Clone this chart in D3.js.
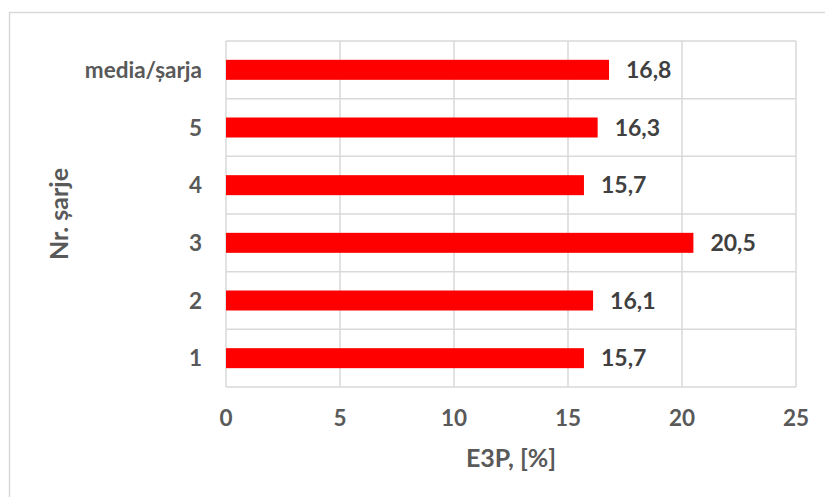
<!DOCTYPE html>
<html><head><meta charset="utf-8">
<script src="https://cdn.jsdelivr.net/npm/d3@7"></script>
<style>body{margin:0;background:#fff}svg{display:block}text{font-family:Lato,"Open Sans",sans-serif;font-weight:bold}</style>
</head><body><svg id="c" width="825" height="497"></svg>
<script>
const categories = ["1","2","3","4","5","media/șarja"];
const values = [15.7,16.1,20.5,15.7,16.3,16.8];
const labels = ["15,7","16,1","20,5","15,7","16,3","16,8"];
const xTicks = [0,5,10,15,20,25];
const xTitle = "E3P, [%]";
const yTitle = "Nr. șarje";

const svg = d3.select("#c");
const m = {l:226, r:796, t:41, b:387};
// chart border
svg.append("path").attr("d","M9.5,497 V12.5 H825").attr("fill","none").attr("stroke","#d9d9d9").attr("stroke-width",1.5);

const x = d3.scaleLinear().domain([0,25]).range([m.l,m.r]);
const y = d3.scaleBand().domain(categories.slice().reverse()).range([m.t,m.b]).paddingInner(0).paddingOuter(0);

// vertical gridlines
svg.append("g").selectAll("line").data(xTicks).join("line")
  .attr("x1",d=>x(d)).attr("x2",d=>x(d)).attr("y1",m.t).attr("y2",m.b)
  .attr("stroke","#d9d9d9").attr("stroke-width",1.5);
// horizontal gridlines
const hb = categories.map(c=>y(c)).concat([m.b]);
svg.append("g").selectAll("line").data(hb).join("line")
  .attr("x1",m.l).attr("x2",m.r).attr("y1",d=>d).attr("y2",d=>d)
  .attr("stroke","#d9d9d9").attr("stroke-width",1.5);

const bh = 20;
svg.append("g").selectAll("rect").data(values).join("rect")
  .attr("x",x(0)).attr("width",d=>x(d)-x(0))
  .attr("y",(d,i)=>y(categories[i])+y.bandwidth()/2-bh/2).attr("height",bh)
  .attr("fill","#ff0000");

svg.append("g").selectAll("text").data(values).join("text")
  .attr("x",d=>x(d)+17).attr("y",(d,i)=>y(categories[i])+y.bandwidth()/2)
  .attr("dy","0.36em").attr("font-size",23).attr("fill","#404040").text((d,i)=>labels[i]);

// category labels
svg.append("g").selectAll("text").data(categories).join("text")
  .attr("x",202).attr("y",d=>y(d)+y.bandwidth()/2).attr("dy","0.36em")
  .attr("text-anchor","end").attr("font-size",22.5).attr("fill","#595959").text(d=>d);

// x tick labels
svg.append("g").selectAll("text").data(xTicks).join("text")
  .attr("x",d=>x(d)).attr("y",418).attr("dy","0.36em").attr("text-anchor","middle")
  .attr("font-size",22.5).attr("fill","#595959").text(d=>d);

svg.append("text").attr("x",(m.l+m.r)/2).attr("y",458).attr("dy","0.36em").attr("text-anchor","middle")
  .attr("font-size",25).attr("fill","#595959").text(xTitle);
svg.append("text").attr("transform",`translate(59,${(m.t+m.b)/2}) rotate(-90)`).attr("dy","0.36em")
  .attr("text-anchor","middle").attr("font-size",25).attr("fill","#595959").text(yTitle);
</script></body></html>
